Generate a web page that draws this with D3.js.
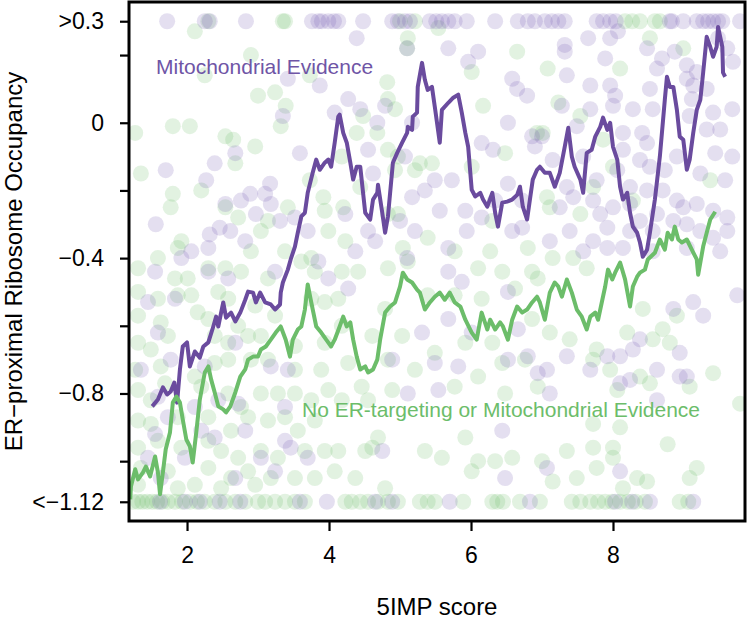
<!DOCTYPE html>
<html><head><meta charset="utf-8">
<script src="https://cdn.jsdelivr.net/npm/d3@7"></script>
<style>
html,body{margin:0;padding:0;background:#fff;}
svg{display:block;}
text{font-family:"Liberation Sans",Arial,Helvetica,sans-serif;}
</style></head>
<body>
<svg id="chart" width="750" height="624"></svg>
<script>
// ---------------- data ----------------
const xTickValues = [2, 4, 6, 8];
const xTickLabels = ["2", "4", "6", "8"];
const yTickValues = [0.3, 0.2, 0, -0.2, -0.4, -0.6, -0.8, -1.0, -1.12];
const yTickLabels = [">0.3", "", "0", "", "\u22120.4", "", "\u22120.8", "", "<\u22121.12"];
const xTitle = "5IMP score";
const yTitle = "ER\u2212proximal Ribosome Occupancy";
const mitoLabel = "Mitochondrial Evidence";
const otherLabel = "No ER-targeting or Mitochondrial Evidence";

// running average, mitochondrial-evidence genes  [x, y]
const mitoLine = [
[1.51,-0.838],[1.59,-0.818],[1.66,-0.782],[1.72,-0.803],[1.77,-0.794],[1.82,-0.768],[1.86,-0.827],[1.90,-0.729],[1.94,-0.661],[2.00,-0.649],
[2.04,-0.720],[2.11,-0.676],[2.18,-0.694],[2.23,-0.661],[2.30,-0.649],[2.37,-0.602],[2.41,-0.573],[2.44,-0.602],[2.51,-0.531],[2.55,-0.576],
[2.62,-0.561],[2.68,-0.587],[2.75,-0.561],[2.82,-0.523],[2.86,-0.499],[2.93,-0.502],[2.97,-0.531],[3.03,-0.502],[3.10,-0.531],[3.18,-0.537],
[3.24,-0.552],[3.31,-0.537],[3.32,-0.502],[3.35,-0.472],[3.42,-0.434],[3.46,-0.404],[3.52,-0.366],[3.56,-0.325],[3.61,-0.277],[3.66,-0.266],
[3.70,-0.207],[3.77,-0.148],[3.82,-0.109],[3.87,-0.139],[3.94,-0.118],[3.99,-0.109],[4.03,-0.130],[4.08,-0.059],[4.13,0.018],[4.15,0.024],
[4.20,-0.030],[4.25,-0.059],[4.30,-0.118],[4.34,-0.168],[4.39,-0.130],[4.44,-0.130],[4.51,-0.266],[4.58,-0.286],[4.62,-0.227],[4.68,-0.207],
[4.69,-0.183],[4.75,-0.266],[4.79,-0.325],[4.83,-0.277],[4.90,-0.118],[4.96,-0.089],[5.03,-0.059],[5.10,-0.030],[5.11,-0.012],[5.17,-0.021],
[5.18,0.018],[5.24,0.030],[5.25,0.106],[5.31,0.177],[5.35,0.127],[5.39,0.097],[5.45,0.106],[5.49,0.047],[5.56,-0.059],[5.59,0.038],
[5.68,0.059],[5.75,0.074],[5.82,0.083],[5.87,0.030],[5.92,-0.030],[5.96,-0.071],[6.01,-0.198],[6.06,-0.218],[6.13,-0.207],[6.17,-0.227],
[6.23,-0.248],[6.30,-0.207],[6.34,-0.266],[6.38,-0.307],[6.44,-0.236],[6.51,-0.233],[6.58,-0.227],[6.65,-0.213],[6.69,-0.189],[6.73,-0.248],
[6.79,-0.286],[6.83,-0.227],[6.87,-0.168],[6.93,-0.139],[6.97,-0.130],[7.04,-0.148],[7.11,-0.148],[7.18,-0.189],[7.25,-0.148],[7.32,-0.071],
[7.37,-0.015],[7.42,-0.100],[7.46,-0.130],[7.54,-0.168],[7.58,-0.207],[7.63,-0.089],[7.70,-0.080],[7.75,-0.041],[7.82,-0.012],[7.86,0.015],
[7.92,-0.021],[7.96,0.000],[8.00,-0.071],[8.06,-0.109],[8.10,-0.189],[8.14,-0.227],[8.20,-0.207],[8.24,-0.266],[8.28,-0.307],[8.34,-0.325],
[8.38,-0.354],[8.42,-0.396],[8.48,-0.375],[8.52,-0.325],[8.59,-0.227],[8.66,-0.100],[8.73,0.068],[8.76,0.136],[8.80,0.106],[8.85,0.106],
[8.90,0.038],[8.94,-0.041],[8.99,-0.050],[9.04,-0.139],[9.08,-0.109],[9.13,-0.030],[9.18,0.038],[9.23,0.068],[9.27,0.148],[9.32,0.254],
[9.37,0.224],[9.41,0.195],[9.46,0.224],[9.48,0.283],[9.54,0.224],[9.55,0.148],[9.58,0.136]
];

// running average, genes with no ER-targeting or mitochondrial evidence  [x, y]
const otherLine = [
[1.20,-1.113],[1.21,-1.075],[1.27,-1.024],[1.31,-1.054],[1.38,-1.033],[1.42,-1.016],[1.48,-1.045],[1.55,-0.986],[1.59,-1.033],[1.62,-1.098],
[1.66,-1.033],[1.70,-0.965],[1.76,-0.915],[1.80,-0.827],[1.85,-0.809],[1.90,-0.827],[1.94,-0.877],[1.99,-0.936],[2.04,-0.956],[2.08,-1.004],
[2.13,-0.915],[2.18,-0.818],[2.25,-0.738],[2.30,-0.720],[2.34,-0.759],[2.39,-0.797],[2.44,-0.838],[2.51,-0.847],[2.55,-0.856],[2.61,-0.838],
[2.68,-0.797],[2.75,-0.750],[2.82,-0.729],[2.86,-0.700],[2.93,-0.691],[3.00,-0.691],[3.04,-0.670],[3.11,-0.661],[3.18,-0.641],[3.25,-0.620],
[3.32,-0.602],[3.39,-0.641],[3.45,-0.691],[3.49,-0.641],[3.56,-0.611],[3.61,-0.602],[3.66,-0.552],[3.70,-0.478],[3.75,-0.531],[3.82,-0.602],
[3.89,-0.620],[3.96,-0.641],[4.03,-0.661],[4.08,-0.641],[4.15,-0.602],[4.20,-0.573],[4.25,-0.602],[4.30,-0.590],[4.34,-0.641],[4.39,-0.691],
[4.44,-0.729],[4.51,-0.720],[4.55,-0.738],[4.62,-0.729],[4.68,-0.700],[4.72,-0.641],[4.79,-0.561],[4.86,-0.543],[4.93,-0.531],[5.00,-0.484],
[5.04,-0.443],[5.10,-0.463],[5.17,-0.472],[5.24,-0.493],[5.28,-0.502],[5.35,-0.552],[5.42,-0.531],[5.49,-0.514],[5.56,-0.502],[5.63,-0.523],
[5.70,-0.502],[5.77,-0.531],[5.85,-0.543],[5.92,-0.582],[6.01,-0.620],[6.08,-0.641],[6.15,-0.561],[6.23,-0.611],[6.27,-0.582],[6.34,-0.611],
[6.41,-0.590],[6.45,-0.602],[6.52,-0.641],[6.58,-0.582],[6.65,-0.543],[6.72,-0.561],[6.79,-0.552],[6.86,-0.531],[6.93,-0.514],[6.97,-0.531],
[7.04,-0.582],[7.11,-0.502],[7.18,-0.472],[7.23,-0.484],[7.28,-0.514],[7.35,-0.463],[7.42,-0.502],[7.49,-0.552],[7.56,-0.573],[7.63,-0.611],
[7.68,-0.573],[7.75,-0.561],[7.79,-0.582],[7.85,-0.523],[7.89,-0.484],[7.93,-0.434],[7.99,-0.463],[8.03,-0.443],[8.10,-0.413],[8.17,-0.463],
[8.24,-0.543],[8.28,-0.484],[8.34,-0.455],[8.38,-0.443],[8.45,-0.434],[8.49,-0.404],[8.59,-0.384],[8.66,-0.345],[8.73,-0.375],[8.77,-0.325],
[8.83,-0.345],[8.87,-0.307],[8.92,-0.345],[8.97,-0.354],[9.04,-0.345],[9.11,-0.375],[9.18,-0.404],[9.20,-0.449],[9.27,-0.366],[9.32,-0.325],
[9.37,-0.286],[9.44,-0.263]
];

// individual genes, mitochondrial evidence: censored at top (y = 0.3), censored at bottom (y = -1.12), and interior [x, y]
const mitoTopX = [1.72,2.25,2.32,2.83,3.76,3.85,3.90,3.99,4.07,4.13,4.48,4.89,4.97,5.07,5.14,5.42,5.51,5.59,5.68,5.77,5.94,6.34,6.66,6.80,6.90,7.04,7.14,7.23,7.32,7.77,7.86,7.96,8.04,8.80,8.83,8.99,9.18,9.27,9.34,9.41,9.48,9.54,9.79];
const mitoBottomX = [1.62,1.97,2.18,2.46,2.75,3.59,3.97,4.65,4.89,5.70,6.83,8.03,8.27,8.52,9.13];
const mitoPoints = [
[3.42,0.13],[3.87,0.11],[3.35,0.02],[2.68,-0.09],[3.59,-0.09],[2.39,-0.12],[1.70,-0.14],[2.27,-0.17],[2.89,-0.21],[3.17,-0.18],
[3.10,-0.21],[2.54,-0.24],[2.76,-0.23],[2.97,-0.27],[3.18,-0.24],[1.56,-0.30],[2.46,-0.31],[2.61,-0.32],[2.32,-0.33],[2.82,-0.35],
[2.06,-0.38],[1.92,-0.40],[2.30,-0.37],[3.31,-0.29],[3.52,-0.28],[3.70,-0.32],[4.08,0.03],[3.85,-0.41],
[4.39,0.25],[5.10,0.22],[5.68,0.22],[5.96,0.18],[6.10,0.21],[6.58,0.13],[6.65,0.10],[6.79,0.08],[6.86,-0.04],[6.90,-0.07],
[4.27,0.07],[4.44,0.04],[4.79,0.05],[5.17,0.00],[6.15,-0.06],[6.31,-0.08],[6.52,0.00],[4.68,0.00],[4.55,-0.08],[4.62,-0.15],
[5.07,-0.10],[5.49,-0.17],[5.73,-0.17],[6.52,-0.18],[6.72,-0.23],[4.23,-0.27],[5.17,-0.22],[5.56,-0.26],[5.92,-0.26],[6.15,-0.28],
[6.34,-0.23],[4.55,-0.32],[4.65,-0.35],[5.00,-0.29],[5.21,-0.32],[5.68,-0.37],[5.94,-0.32],[6.58,-0.32],[6.72,-0.31],[4.37,-0.38],
[5.10,-0.40],[5.35,-0.20],
[7.32,0.23],[7.65,0.25],[7.96,0.25],[8.07,0.27],[7.32,0.21],[7.89,0.19],[8.48,0.22],[8.69,0.19],[8.87,0.21],[9.04,0.17],
[9.18,0.15],[9.48,0.25],[9.61,0.22],[9.69,0.18],[9.04,0.13],[9.13,0.11],[8.62,0.16],[7.35,0.14],[7.68,0.11],[7.96,0.11],
[8.03,0.08],[8.52,0.10],[9.11,0.07],[9.32,0.10],[7.28,0.05],[7.68,0.04],[8.00,0.05],[8.28,0.04],[8.56,0.04],[9.08,0.02],
[9.41,0.03],[9.68,0.04],[7.00,-0.04],[7.49,-0.01],[8.14,-0.03],[8.41,-0.03],[8.48,-0.06],[9.32,-0.02],[9.51,-0.02],[9.44,-0.09],
[9.68,-0.10],[7.15,-0.11],[7.58,-0.10],[8.14,-0.08],[8.38,-0.11],[8.52,-0.13],[8.73,-0.14],[8.90,-0.10],[9.23,-0.15],[9.58,-0.17],
[7.35,-0.19],[7.44,-0.22],[7.77,-0.17],[8.06,-0.14],[8.24,-0.19],[8.48,-0.20],[8.70,-0.20],[8.90,-0.23],[9.18,-0.24],[9.41,-0.26],
[9.61,-0.28],[7.25,-0.25],[7.72,-0.23],[7.82,-0.27],[8.00,-0.25],[8.24,-0.24],[8.38,-0.29],[8.62,-0.27],[8.85,-0.29],[8.99,-0.25],
[7.39,-0.32],[7.72,-0.35],[7.92,-0.31],[8.24,-0.32],[8.56,-0.32],[9.04,-0.30],[9.23,-0.32],[9.41,-0.34],[9.61,-0.32],[7.11,-0.35],
[7.58,-0.38],[7.92,-0.37],[8.14,-0.37],[8.56,-0.38],[9.04,-0.37],[9.51,-0.38],
[1.55,-0.44],[2.30,-0.44],[1.83,-0.52],[2.58,-0.46],[3.24,-0.44],[3.99,-0.46],[1.45,-0.53],[1.59,-0.62],[1.77,-0.70],[2.25,-0.72],
[2.68,-0.65],[3.18,-0.72],[3.42,-0.73],[1.35,-0.73],[1.59,-0.81],[1.73,-0.87],[2.11,-0.84],[2.44,-0.82],[2.72,-0.83],[3.38,-0.84],
[1.55,-0.92],[2.20,-0.91],[2.39,-0.93],[2.82,-0.91],[3.38,-0.94],[3.46,-0.96],[3.70,-0.99],[1.45,-0.99],[1.97,-0.99],[3.04,-0.99],
[3.24,-1.03],[1.63,-1.05],[2.68,-1.05],
[4.27,-0.49],[5.68,-0.44],[5.87,-0.47],[6.52,-0.50],[5.31,-0.62],[5.68,-0.58],[6.01,-0.62],[6.66,-0.61],[4.89,-0.70],[5.49,-0.71],
[5.82,-0.72],[6.52,-0.70],[6.80,-0.69],[6.94,-0.74],[5.11,-0.80],[5.54,-0.79],[4.75,-0.97],[6.44,-0.91],[6.48,-1.05],
[8.85,-0.55],[9.13,-0.53],[9.27,-0.57],[9.75,-0.51],[7.35,-0.69],[7.68,-0.73],[7.92,-0.69],[8.10,-0.69],[8.28,-0.67],[8.38,-0.64],
[8.62,-0.73],[8.94,-0.68],[7.07,-0.73],[7.11,-0.80],[8.10,-0.77],[8.24,-0.76],[8.94,-0.75],[9.04,-0.75],[8.62,-0.82],[7.07,-1.02],
[8.10,-1.03]
];

// individual genes, no ER-targeting or mitochondrial evidence
const otherTopX = [2.30,3.35,3.38,5.00,5.21,8.17,8.27,8.38,8.59,8.66];
const otherBottomX = [1.24,1.31,1.37,1.44,1.51,1.58,1.65,1.73,1.83,1.93,2.04,2.14,2.25,2.39,2.54,2.68,2.82,3.00,3.10,3.24,3.38,3.52,3.66,4.23,4.32,4.44,4.55,4.69,4.83,4.97,5.28,5.39,5.49,5.89,6.30,6.37,6.45,6.69,6.97,7.42,7.54,7.68,7.79,7.89,7.99,8.10,8.21,8.32,8.45,8.94,9.06];
const otherPoints = [
[2.11,0.27],[2.90,0.20],[3.00,0.08],[3.24,0.09],[3.39,0.05],[1.27,-0.03],[1.80,-0.01],[2.04,-0.01],[2.54,-0.04],[2.65,-0.05],
[2.96,-0.07],[3.32,-0.01],[1.35,-0.15],[1.80,-0.21],[1.77,-0.25],[2.20,-0.20],[2.68,-0.12],[2.54,-0.25],[2.72,-0.28],[3.04,-0.32],
[3.14,-0.29],[3.42,-0.25],[3.73,-0.17],[3.92,-0.22],[3.94,-0.26],[3.99,-0.32],[1.92,-0.35],[1.87,-0.37],[1.59,-0.40],[2.90,-0.38],
[3.38,-0.38],[3.75,-0.40],[2.25,0.14],[3.73,0.14],
[5.11,0.25],[5.10,0.22],[5.54,0.28],[6.65,0.21],[6.01,0.15],[4.82,0.12],[4.83,0.07],[4.93,0.04],[6.17,0.05],[4.48,0.02],
[4.68,-0.03],[4.39,-0.03],[4.18,-0.10],[4.83,-0.08],[4.97,-0.10],[5.28,-0.12],[5.45,-0.12],[6.01,-0.13],[6.48,-0.09],[6.93,-0.03],
[4.44,-0.19],[4.93,-0.14],[5.21,-0.14],[4.20,-0.25],[4.83,-0.27],[4.97,-0.27],[5.39,-0.34],[6.30,-0.29],[6.27,-0.38],[6.80,-0.37],
[4.23,-0.35],[5.04,-0.37],[5.77,-0.38],
[7.08,0.16],[8.10,0.16],[8.52,0.25],[8.99,0.22],[7.01,-0.03],[7.23,0.06],[7.54,0.02],[7.86,-0.05],[7.07,-0.22],[7.11,-0.25],
[7.54,-0.27],[9.37,-0.17],[7.72,-0.19],[8.00,-0.13],[7.15,-0.40],[7.44,-0.40],[8.28,-0.23],
[1.31,-0.43],[1.83,-0.46],[2.01,-0.46],[2.30,-0.43],[2.54,-0.43],[2.76,-0.44],[3.14,-0.46],[3.61,-0.41],[3.80,-0.44],[1.31,-0.50],
[1.59,-0.52],[1.87,-0.51],[2.06,-0.51],[2.44,-0.50],[2.58,-0.52],[2.96,-0.54],[3.75,-0.52],[1.31,-0.57],[1.63,-0.59],[2.15,-0.56],
[2.30,-0.58],[2.72,-0.60],[3.24,-0.57],[3.94,-0.53],[1.31,-0.65],[1.49,-0.67],[1.73,-0.63],[2.39,-0.63],[2.58,-0.65],[2.86,-0.63],
[3.04,-0.63],[3.52,-0.66],[3.94,-0.65],[1.27,-0.73],[1.63,-0.72],[2.11,-0.75],[2.39,-0.71],[2.58,-0.70],[2.90,-0.70],[3.14,-0.70],
[3.52,-0.73],[3.89,-0.73],[1.31,-0.79],[1.49,-0.82],[1.69,-0.77],[2.20,-0.78],[2.58,-0.80],[2.76,-0.84],[3.04,-0.80],[3.28,-0.80],
[3.52,-0.80],[3.75,-0.82],[3.99,-0.79],[1.31,-0.88],[1.49,-0.89],[1.87,-0.87],[2.30,-0.87],[2.62,-0.91],[2.86,-0.87],[3.14,-0.88],
[3.38,-0.87],[3.56,-0.91],[3.80,-0.88],[1.31,-0.96],[1.59,-0.94],[1.92,-0.96],[2.30,-0.94],[2.48,-0.97],[2.72,-0.99],[3.04,-0.97],
[3.28,-0.99],[3.66,-0.97],[3.94,-0.97],[1.35,-1.02],[1.73,-1.03],[2.30,-1.02],[2.62,-1.05],[2.86,-1.03],[3.18,-1.05],[3.52,-1.05],
[3.80,-1.05],[4.08,-1.03],[1.31,-1.07],[1.87,-1.08],[2.11,-1.07],[2.48,-1.08],[2.96,-1.07],
[4.18,-0.44],[4.41,-0.44],[4.83,-0.43],[5.11,-0.41],[6.10,-0.43],[6.44,-0.44],[6.86,-0.44],[4.13,-0.52],[4.79,-0.55],[5.39,-0.51],
[5.77,-0.51],[6.15,-0.52],[6.62,-0.49],[6.94,-0.46],[4.18,-0.60],[4.61,-0.63],[5.03,-0.63],[5.49,-0.68],[5.92,-0.65],[6.30,-0.65],
[6.86,-0.58],[4.27,-0.71],[4.83,-0.70],[5.21,-0.73],[6.10,-0.75],[6.44,-0.71],[6.76,-0.70],[4.46,-0.78],[4.89,-0.79],[5.77,-0.78],
[6.48,-0.80],[6.94,-0.78],[4.18,-0.82],[4.55,-0.82],[4.69,-0.93],[4.61,-0.96],[5.92,-0.93],[4.13,-0.97],[4.51,-0.97],[5.35,-0.97],
[5.59,-0.99],[6.10,-1.00],[6.34,-1.00],[6.58,-0.99],[7.00,-1.00],[4.37,-1.05],[4.79,-1.08],[6.01,-1.03],
[7.63,-0.43],[8.42,-0.55],[8.90,-0.57],[7.11,-0.62],[7.39,-0.64],[7.77,-0.67],[8.20,-0.62],[8.56,-0.64],[8.70,-0.61],[8.80,-0.65],
[7.72,-0.70],[7.96,-0.73],[8.06,-0.79],[8.38,-0.75],[8.52,-0.77],[9.08,-0.78],[9.41,-0.74],[9.79,-0.83],[7.35,-0.97],[7.72,-0.96],
[8.00,-0.96],[8.00,-0.99],[7.77,-1.02],[7.49,-1.05],[7.15,-1.06],[8.14,-1.08],[8.34,-1.05],[8.48,-1.06],[8.77,-0.95],[9.08,-1.05],
[9.18,-1.02],[7.72,-0.89],[8.10,-0.90]
];

// ---------------- drawing ----------------
const svg = d3.select("#chart");
const plot = {left: 129, right: 745, top: 2, bottom: 521};
const xLo = 1.504, xHi = 9.538, yLo = -1.12, yHi = 0.30;
const xPad = (xHi - xLo) * 0.04, yPad = (yHi - yLo) * 0.04;
const x = d3.scaleLinear().domain([xLo - xPad, xHi + xPad]).range([plot.left, plot.right]);
const y = d3.scaleLinear().domain([yLo - yPad, yHi + yPad]).range([plot.bottom, plot.top]);

const purple = "#6a4b9e", green = "#6cbd6a";
const purpleFill = "rgba(118,95,178,0.2)", greenFill = "rgba(112,188,104,0.2)";

svg.append("clipPath").attr("id", "clip").append("rect")
  .attr("x", plot.left).attr("y", plot.top)
  .attr("width", plot.right - plot.left).attr("height", plot.bottom - plot.top);

const g = svg.append("g").attr("clip-path", "url(#clip)");

const allOther = otherPoints.concat(otherTopX.map(v => [v, yHi]), otherBottomX.map(v => [v, yLo]));
const allMito = mitoPoints.concat(mitoTopX.map(v => [v, yHi]), mitoBottomX.map(v => [v, yLo]));

g.selectAll("circle.other").data(allOther).join("circle").attr("class", "other")
  .attr("cx", d => x(d[0])).attr("cy", d => y(d[1])).attr("r", 8).attr("fill", greenFill);
g.selectAll("circle.mito").data(allMito).join("circle").attr("class", "mito")
  .attr("cx", d => x(d[0])).attr("cy", d => y(d[1])).attr("r", 8).attr("fill", purpleFill);

const line = d3.line().x(d => x(d[0])).y(d => y(d[1]));
g.append("path").datum(mitoLine).attr("d", line).attr("fill", "none")
  .attr("stroke", purple).attr("stroke-width", 4).attr("stroke-linejoin", "round");
g.append("path").datum(otherLine).attr("d", line).attr("fill", "none")
  .attr("stroke", green).attr("stroke-width", 4).attr("stroke-linejoin", "round");

// labels
svg.append("text").attr("x", 156).attr("y", 74).attr("font-size", 21).attr("fill", "#6f55a6").text(mitoLabel);
svg.append("text").attr("x", 302).attr("y", 417).attr("font-size", 21).attr("fill", "#6cbd6a").text(otherLabel);

// box
svg.append("rect").attr("x", plot.left).attr("y", plot.top)
  .attr("width", plot.right - plot.left).attr("height", plot.bottom - plot.top)
  .attr("fill", "none").attr("stroke", "#000").attr("stroke-width", 3);

// axes
const xAxis = d3.axisBottom(x).tickValues(xTickValues)
  .tickFormat((d, i) => xTickLabels[i]).tickSize(10).tickPadding(16);
const gx = svg.append("g").attr("transform", `translate(0,${plot.bottom})`).call(xAxis);
gx.select(".domain").remove();
gx.selectAll(".tick line").attr("stroke", "#000").attr("stroke-width", 2.2);
gx.selectAll(".tick text").attr("font-size", 23).attr("fill", "#000")
  .attr("font-family", '"Liberation Sans",Arial,Helvetica,sans-serif');

const yAxis = d3.axisLeft(y).tickValues(yTickValues)
  .tickFormat((d, i) => yTickLabels[i]).tickSize(9).tickPadding(16);
const gy = svg.append("g").attr("transform", `translate(${plot.left},0)`).call(yAxis);
gy.select(".domain").remove();
gy.selectAll(".tick line").attr("stroke", "#000").attr("stroke-width", 2.2);
gy.selectAll(".tick text").attr("font-size", 23).attr("fill", "#000")
  .attr("font-family", '"Liberation Sans",Arial,Helvetica,sans-serif');

// titles
svg.append("text").attr("x", (plot.left + plot.right) / 2).attr("y", 615)
  .attr("text-anchor", "middle").attr("font-size", 24).text(xTitle);
svg.append("text").attr("transform", `translate(22,${(plot.top + plot.bottom) / 2}) rotate(-90)`)
  .attr("text-anchor", "middle").attr("font-size", 24).text(yTitle);
</script>
</body></html>
